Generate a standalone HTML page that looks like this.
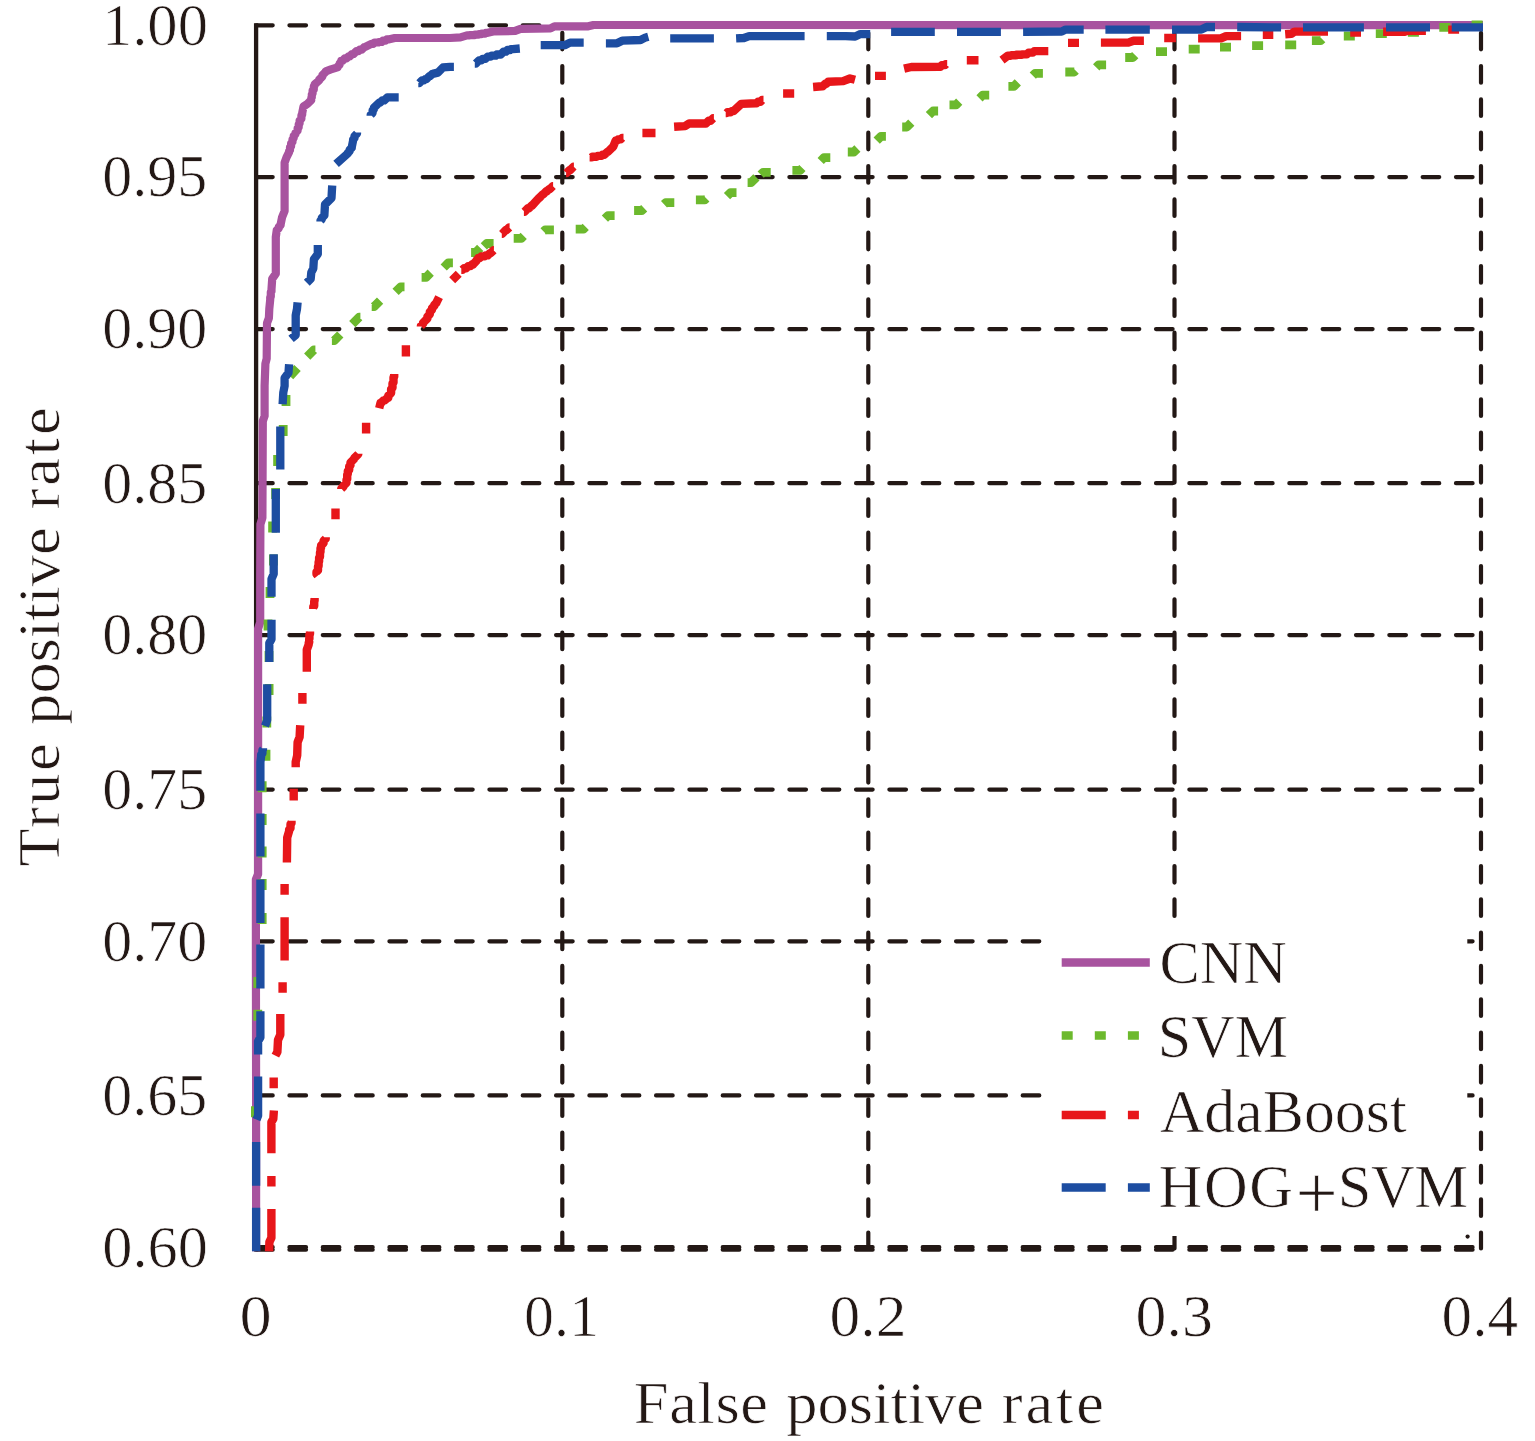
<!DOCTYPE html>
<html lang="en"><head><meta charset="utf-8"><title>ROC curves</title>
<style>
html,body{margin:0;padding:0;background:#ffffff;}
body{width:1535px;height:1441px;overflow:hidden;}
svg{display:block;}
text{font-family:"Liberation Serif",serif;fill:#231815;stroke:#fff;stroke-width:0.7px;stroke-linejoin:round;}
</style></head><body>
<svg width="1535" height="1441" viewBox="0 0 1535 1441">
<rect width="1535" height="1441" fill="#ffffff"/>
<defs><clipPath id="plotclip"><rect x="240" y="0" width="1243" height="1251.6"/></clipPath></defs>
<g fill="none" stroke="#231815" stroke-width="4.2" stroke-linecap="round" stroke-dasharray="16.6 16.73">
<path d="M256.1 25.3H1481"/>
<path d="M256.1 177.1H1481"/>
<path d="M256.1 329.1H1481"/>
<path d="M256.1 483.2H1481"/>
<path d="M256.1 635.1H1481"/>
<path d="M256.1 789.6H1481"/>
<path d="M256.1 941.3H1481"/>
<path d="M256.1 1095.4H1481"/>
<path d="M562.3 25.3V1248.4" stroke-dashoffset="25.9"/>
<path d="M868.3 25.3V1248.4" stroke-dashoffset="25.9"/>
<path d="M1174.5 25.3V1248.4" stroke-dashoffset="25.9"/>
<path d="M1481.0 25.3V1248.4" stroke-dashoffset="25.9"/>
</g>
<path d="M256.1 1247.2H1481M256.1 1249.7H1481" fill="none" stroke="#231815" stroke-width="4.2" stroke-linecap="round" stroke-dasharray="16.6 16.73"/>
<path d="M256.1 23.2V1251.4" fill="none" stroke="#231815" stroke-width="4.3"/>
<rect x="1043" y="918" width="424.3" height="318" fill="#ffffff"/>
<circle cx="1467.6" cy="1236.6" r="2.1" fill="#231815"/>
<g fill="none" stroke-linejoin="round" clip-path="url(#plotclip)">
<path d="M256.1 1251.6V1100L255.9 949.9V879.4L258.1 874.2V762V761.9V628.8L260.2 622.3V574V573.9L260.4 524.3L262.4 517.8L262.8 421.2L264.6 416V386V385.9L265.4 363.7L266.7 358.5L267 323.2L268.9 318L269.3 308.9L270.2 299.8V297.2L270.8 296.7V294.2V292.1L271.5 291.4V289.3L272.2 278.9L275.8 273.7V237.1L276.7 230.6V230.2L278.8 228.2V227.8V226.9L280.7 225V224.1L282 217.6L284.6 211V198V197.9V162.6L286.5 157.4L289.1 152.2V151.1L290 150.2V149V147.2L291.1 146.2V144.4V143.3L292.5 141.9V140.8V139.3L293.7 138.1V136.5V135.9L295.5 134.1V133.5V132.8L297.6 130.7V130V128.3L298.7 127.3V125.6V124.3L299.6 123.4V122.2V120.6L301.4 118.7V117.1V115.5L302.2 114.7V113.1L303.5 106.5L307.4 103.9L311.3 100V98L311.8 97.5V95.5V94.3L312.6 93.5V92.2V90.5L313.8 89.4V87.6V86.4L314.6 85.6V84.4L319.1 80.5V79.7L322.4 76.5V75.8V75.2L325.7 71.9V71.3L330.9 69.4L337.4 67.4V66.9L339.7 64.6V64.1V63.3L341.3 61.7V60.9H342.4L344.8 58.4H345.9H346.5L348.6 56.3H349.2H349.8L352.1 54H352.8H353.5L356.4 51.1H357H358.4L359.8 49.6H361.2H361.8L364.2 47.2H364.8L371.3 43.9H373.2L374.6 42.5H376.5H378.2L378.8 42H380.5H381.6L382.9 40.7H384H385.5L386.8 39.4H388.3L394.8 38H450L460.4 37.4L467 35.4H469.4L469.7 35.1H472.1H474.6L475 34.7H477.4H478.4L479 34.1H480H481.3L481.8 33.6H483H485L485.8 32.8H487.8L493.1 31.5L515.2 30.9L520.5 28.9L550.5 28.3L554.4 26.3H588.3L593.5 25H650L1483 25.1" stroke="#a8539f" stroke-width="8.2"/>
<path d="M286 394.9V405.9M283.2 424.9V435.9M277.6 454.9V465.9M275.6 488V499M272.6 521.4V532.4M273.4 554.5V565.5M270 587V598M268 619.4V630.4M269 650.9V661.9M269.1 684V695M266.8 716.5V727.5M266 749.8V760.8M262.2 781.3V792.3M262.2 813.9V824.9M262.2 846.5V857.5M262.2 879.1V890.1M262.2 913.1V924.1M257.8 977.1V988.1M257.8 1009.7V1020.7M255.4 1106.3V1117.3M290 376.2L297.5 368.1M307.2 356.6L313.9 349.9H315.4M331.9 340.7H334.2L340.3 334.5M352.3 324.1L359.2 317.2H360.4M371.7 306.7H374.1L380.1 300.6M395.6 291.9L400.7 286.8H404.5M421.6 277.3H426.1L430.7 272.7M443.7 267.5L448.3 262.9H452.9M471.1 252.5H475.7L480.2 247.9M483.8 246.4L486.8 243.5H493.6M513.7 238.3H521.3L523.7 235.9M543.5 231.4L545.1 229.9H553.9M575.7 229.1H583.5L585.7 226.9M604.9 218.7L608 215.6H614.6M634.1 210.5H641.8L644.2 208.2M664 204.3L665.7 202.7H674.3M695.9 199.9H704.8L706.3 198.4M727 196.2L730.6 192.6H736.5M747.6 182.7H751L756.4 177.3M760.7 174.7L763.1 172.3H770.7M792.4 170.3H800.1L802.4 168M820.7 161L824 157.7H830.3M847.8 152H853.8L857.4 148.5M876.7 140.7L881 136.3H885.9M902.2 127H906.9L911.3 122.6M928.9 115.2L933.1 111H938.1M949.5 104.8H956.1L959.2 101.7M979.5 98.3L982.7 95.2H989.2M1008.4 86.3H1013.9L1017.8 82.4M1032.8 75.7L1035.1 73.4H1042.9M1065.3 72H1074.3L1075.7 70.6M1096.2 67.4L1098.7 64.8H1106.1M1125.2 57.5H1132.9L1135.2 55.1M1156 51.7H1167M1188.7 49.1H1199.7M1220 47.2H1231M1252.1 45.7H1263.1M1285.2 44.9H1296.2M1311.9 40.7H1320.6L1322.2 39.1M1343.8 36H1354.8M1375.8 33.7H1386.8M1407.9 32.4H1418.9M1439.3 27.4H1450.3M1471.6 24.9H1482.6" stroke="#6cb92d" stroke-width="8.8"/>
<path d="M269.1 1251.6L269.4 1242.1L271.4 1237.7V1209M271.4 1186.6V1176.1M271.4 1153.3V1122.2L273.3 1118.9L273.9 1110.5M273.7 1088.3V1077.6M275.4 1055.7L277.4 1051.8L278 1040L280.3 1034.8V1013.9M282.6 992.7V982.2M284.6 960.4V950V917.3M284.6 894.8V884M286.9 862.5L287.2 837.7L289.1 831.1V829.7L290.5 828.3V826.9V824.3L291.5 823.3V820.7M293.7 800.5V788.7M295.7 767.2V762L297.2 755.3L297.6 742.3L299.6 737.1L300.2 725.3M302.4 703.8V693M306.8 671.8V649.7L308.7 644.5V642.8L309.2 642.4V640.7V639.1L309.4 638.8V637.2V634.6L310 634V631.4M313.3 609V606.8L314.2 605.9V603.8V601.2L314.6 600.8V598.1M317.8 575.6L316.5 574V571.9L318 570.4V568.3V566.6L318.6 565.9V564.1V562.1L319.1 561.6V559.5V557.6L320 556.8V554.9V552.5L320.5 552V549.6V548.3L321.1 547.7V546.5V545.5L323.6 543V542.1V540.7L325.7 538.7V537.3M335.5 519.3V508.4M341.3 489.1V488.6L343.4 486.6V486.1V485.9L346.5 482.8V482.5V479.9L347.2 479.2V476.6V474.7L347.8 474.1V472.1V471.1L349.2 469.8V468.8V466.5L350.5 465.2V463V462.6L354.4 458.6V458.2V458L358.3 454.1V453.8M366.1 433.6V422.8M379.2 408.2L380.5 403H381L383.5 400.4H384H384.8L387.5 397.7H388.3V395.8L391.1 393V391V389.2L392.5 387.8V386V383.5L393.5 382.5V380V377.4L394.2 376.7V374.1M405.9 356.5V345.2M420.9 326.5V326L423 323.9V323.4V322.9L427.4 318.5V318V316.6L429.8 314.2V312.7V311.9L432 309.7V308.9V308.2L434.3 305.9V305.2V304.9L436.5 302.7V302.4L439.1 297.2M452.2 280.2L458.7 273.7M461.3 269.8H462.5L464.1 268.2H465.2H466.1L468.2 266.1H469.2H470.4L471.9 264.5H473.1V264.3L476.7 260.6V260.3V260L478.3 258.4V258H479.7L481.3 256.4H482.8H484.6L485.6 255.4H487.4H487.7L490.1 253.1H490.4H490.7L493.6 250.2H493.9M501.8 233.9H502.1L505.9 230H506.2H506.6L509.3 227.4H509.6M523.9 211.7H524.5L527.9 208.3H528.5H528.9L531.3 205.8H531.8L538.9 198H539.2L542.7 194.4H543H543.2L546.3 191.3H546.5H546.9L549.1 189.1H549.6H549.8L552.8 186.1H553.1M566.1 173.1H566.5L569.4 170.2H569.7H570L573.6 166.6H573.9M589.6 157.4H591.8L592.5 156.7H594.6H596.8L597.7 155.9H599.9H601.4L602.5 154.8H603.9H604.3L607.3 151.9H607.7H607.9L612.8 147H613.1L615.7 140.5H617L618.1 139.4H619.4H620.7L622.2 137.9H623.5M642.4 133H655.5M674.1 126.8L685.2 126.1L689.1 123.5H704.8H705.9L708.7 120.7H709.8H710.6L713.1 118.3H713.9M725.7 113.1H726.8L727.5 112.3H728.7H730.5L731.7 111.1H733.5L741.3 103.9L755.7 103.3H756.5L758.1 101.7H758.9H760.4L762.1 100H763.5M783.1 93.5H794.2M813.1 87L822.2 86.3H822.7L825.3 83.7H825.8H826.3L828.2 81.8H828.7L843.1 81.1L850 78.5L855 79.8M875 75.9H885.9M904.1 68.7L911.3 67L938.7 66.8H940.3L941.9 65.1H943.5H944.9L945.8 64.1H947.2M966.8 60.2H978.5M1002 60.2L1007.9 55.7H1010.7L1011.1 55.2H1013.9H1016.1L1016.5 54.8H1018.7H1021.6L1022 54.4H1024.8H1026.8L1028.6 52.6H1030.6H1032.8L1034.3 51.1H1036.6H1048.3M1068 42.9H1079M1100.9 42.6H1128.3L1133.5 40.7H1143.9M1164.2 38H1175.9M1198.1 38.4H1220.9L1226.1 36.1H1241.1M1262.8 34.7H1273.3M1285.2 34.2L1291.5 33.7L1294.6 31.6H1328M1350.2 32.6H1361M1383.1 31.7H1405.2L1407.5 30.8H1425.9M1448.2 29.6H1459.1" stroke="#e7161a" stroke-width="8.4"/>
<path d="M256.1 1251.6V1207.7M256.1 1185.7V1142M256.5 1119.6L258.1 1115.7V1076.5M258.1 1054.4V1041.3L260.4 1037.4V1011.3M260.4 944.6V949.9V988.5M260.4 923.1V879.4M260.4 856.6V813.5M263 748.2V749.5L262.4 750.1V751.5V753.4L261.1 754.7V756.6L260.4 762V790.7M265 726L267.2 720.1V684.2M269.3 662.1V643.1L271.5 639.2V619.7M273.7 554.3V573.9L271.5 579.2V596.8M275.8 532.8V489.1M280.3 469.5V426.4M282.6 404.3L283.3 392.5L284.6 386V378L288.5 372.8L289.1 364.3M291.1 338.9L295.7 335V315.4L297 308.9L297.6 302.4M306.8 282.8L310.7 278.9L311.3 272.4L313.3 268.5L313.9 259.3L317.8 254.1V245M320.5 221.5V220.6L321.8 219.3V218.4V218L324.4 215.4V215L325 204.5L331.5 198L332.2 185.5M336.1 163.9L347.8 153.5V152.9L349.7 151V150.4V149.7L351.8 147.7V147L353.1 140.5V139.5L354.5 138V137V136.1L357 133.6V132.6M370.7 115.7V114.8L372.6 112.8V111.9V110.5L373.9 109.2V107.8L379.2 102.6H380.1L382.3 100.4H383.2H384.2L387.3 97.4H388.3H398.7M418.3 83.1H419.3L422 80.4H423H423.9L425.2 79.1H426.1H426.4L429.4 76.1H429.7H430.1L432.3 73.9H432.6L437.9 72.6L443.1 67.4L450 66.8H453.9M474.8 63.5H475.9L479 60.4H480.1H481.3L482.7 58.9H483.9H485.4L487.7 56.6H489.2H490.6L491.6 55.7H493.1H495.6L496.8 54.5H499.4H500.7L503.5 51.7H504.8H505.8L507.5 50H508.5H510.1L511 49.1H512.6L519.8 48.5M540.7 45.2H564.8L570 42.6H583.7M605.9 43.3H617L622.2 40.7L640.5 40L645.7 37.4L648.3 36.7M670.2 38.4H713.9M736.1 38.4L743.9 38L749.2 36.1H804.6M826.8 36.1H845.7L855.2 36.5L860.4 34.1H870.2M891.1 31.8H934.8M957 31.8H1000.9M1023.1 31.8L1061.7 31.5L1065.7 29.6H1083.7M1105.4 29.6H1149.8M1172 29.6H1201.3L1206.6 27H1215M1237.2 27L1281.1 27.4M1303 27.4H1363.9M1386 27.4H1430M1451.7 27.4H1483" stroke="#1d4da1" stroke-width="8.3"/>
</g>
<g fill="none" stroke-width="8.5">
<path d="M1061.7 962.6H1149.8" stroke="#a8539f"/>
<path d="M1061.7 1035.5H1149.8" stroke="#6cb92d" stroke-dasharray="11 22.1"/>
<path d="M1061.7 1114.9H1149.8" stroke="#e7161a" stroke-dasharray="44 22.2 11 22"/>
<path d="M1061.7 1187.5H1149.8" stroke="#1d4da1" stroke-dasharray="44 22.2"/>
</g>
<g>
<text transform="translate(101.89 44.65) scale(1.0362 1)" font-size="58.5">1.00</text>
<text transform="translate(102.35 196.45) scale(1.0256 1)" font-size="58.5">0.95</text>
<text transform="translate(102.35 348.45) scale(1.0256 1)" font-size="58.5">0.90</text>
<text transform="translate(102.35 502.55) scale(1.0256 1)" font-size="58.5">0.85</text>
<text transform="translate(102.35 654.45) scale(1.0256 1)" font-size="58.5">0.80</text>
<text transform="translate(102.35 808.95) scale(1.0256 1)" font-size="58.5">0.75</text>
<text transform="translate(102.35 960.65) scale(1.0256 1)" font-size="58.5">0.70</text>
<text transform="translate(102.35 1114.75) scale(1.0256 1)" font-size="58.5">0.65</text>
<text transform="translate(102.34 1266.55) scale(1.0318 1)" font-size="58.5">0.60</text>
<text transform="translate(239.47 1335.65) scale(1.1030 1)" font-size="58.5">0</text>
<text transform="translate(523.95 1335.65) scale(1.0256 1)" font-size="58.5">0.1</text>
<text transform="translate(829.59 1335.65) scale(1.0508 1)" font-size="58.5">0.2</text>
<text transform="translate(1135.58 1335.65) scale(1.0563 1)" font-size="58.5">0.3</text>
<text transform="translate(1441.60 1335.65) scale(1.0471 1)" font-size="58.5">0.4</text>
<text transform="translate(0 1423.10) scale(1.0450 1)" font-size="59.8"><tspan x="606.58" letter-spacing="0.53">False </tspan><tspan x="752.36">positive </tspan><tspan x="958.66" letter-spacing="2.71">rate</tspan></text>
<text transform="translate(59.30 0) rotate(-90) scale(1.0430 1)" font-size="59.8"><tspan x="-830.77" letter-spacing="2.47">True </tspan><tspan x="-694.90">positive </tspan><tspan x="-488.30" letter-spacing="2.74">rate</tspan></text>
<text transform="translate(1159.54 983.20) scale(0.9828 1)" font-size="61.4">CNN</text>
<text transform="translate(1157.74 1057.10) scale(0.9788 1)" font-size="61.4">SVM</text>
<text transform="translate(1159.73 1132.00) scale(1.0066 1)" font-size="61.4">AdaBoost</text>
<text transform="translate(0 1206.80) scale(0.9850 1)" font-size="61.4"><tspan x="1176.18" letter-spacing="1.77">HOG</tspan><tspan x="1315.24" font-size="76.0" y="10.80">+</tspan><tspan x="1358.09" letter-spacing="-0.40" y="0.00">SVM</tspan></text>
</g>
</svg>
</body></html>
